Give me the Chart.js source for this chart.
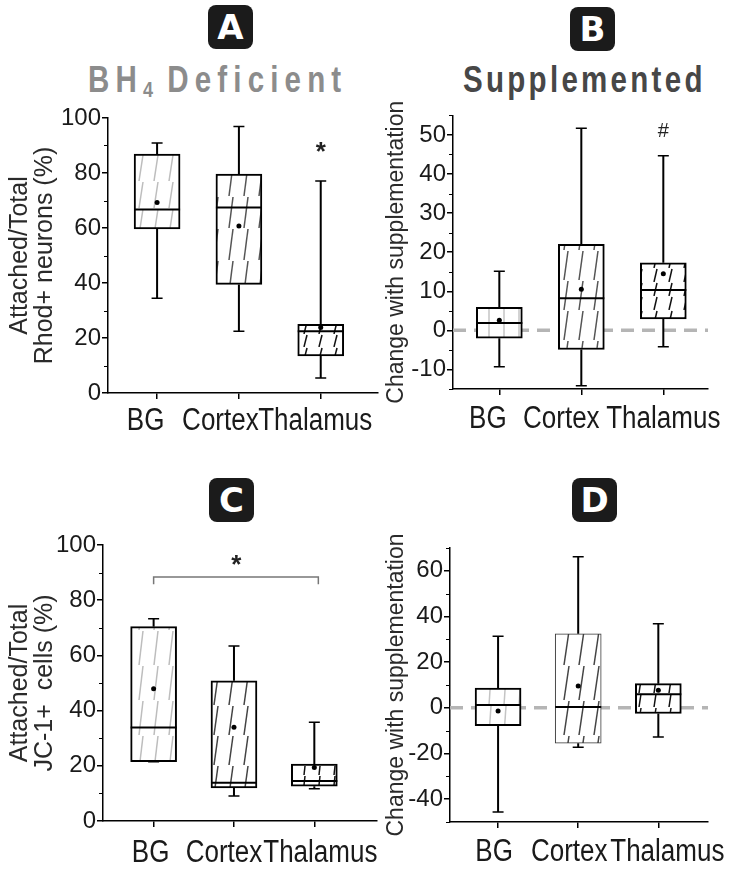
<!DOCTYPE html>
<html>
<head>
<meta charset="utf-8">
<script src="https://cdn.jsdelivr.net/npm/chart.js@4.4.1/dist/chart.umd.min.js"></script>
<style>
  body { margin: 0; background: #fff; width: 731px; height: 871px; position: relative; overflow: hidden; }
  canvas { position: absolute; }
  .badge { position: absolute; width: 45px; height: 44px; background: #1b1b1b; border-radius: 8px; color: #fff;
           font: bold 34px 'DejaVu Sans', sans-serif; display: flex; align-items: center; justify-content: center; }
  .head { position: absolute; font-family: 'Liberation Sans', sans-serif; font-weight: bold;
          font-size: 36px; line-height: 36px; white-space: nowrap; transform: scaleX(0.82); transform-origin: 0 0; }
  .head sub { font-size: 22px; vertical-align: -5px; letter-spacing: 0; }
</style>
</head>
<body>
<div class="badge" style="left:208px;top:5px">A</div>
<div class="badge" style="left:570px;top:7px">B</div>
<div class="badge" style="left:209px;top:478px">C</div>
<div class="badge" style="left:572px;top:478px">D</div>
<div class="head" style="left:88px;top:62px;color:#8c8c8c;letter-spacing:7.5px">BH<sub>4</sub> Deficient</div>
<div class="head" style="left:463px;top:62px;color:#474747;letter-spacing:4px">Supplemented</div>

<canvas id="chartA" width="380" height="335" style="left:0;top:100px"></canvas>
<canvas id="chartB" width="351" height="335" style="left:380px;top:100px"></canvas>
<canvas id="chartC" width="380" height="346" style="left:0;top:525px"></canvas>
<canvas id="chartD" width="351" height="346" style="left:380px;top:525px"></canvas>

<script>
const categories = ['BG', 'Cortex', 'Thalamus'];

// A - BH4 deficient, attached/total Rhod+ neurons (%)
const aLow = [34.5, 22.5, 5.5];
const aQ1 = [59.7, 39.5, 13.5];
const aMedian = [66.7, 67.5, 22.5];
const aQ3 = [86.9, 79.6, 25.0];
const aHigh = [90.9, 96.9, 77.1];
const aMean = [69.3, 60.7, 23.8];
const aTicks = [0, 20, 40, 60, 80, 100];

// B - change with supplementation (Rhod+)
const bLow = [-9.3, -14.2, -4.2];
const bQ1 = [-2.0, -4.9, 2.9];
const bMedian = [1.9, 8.2, 10.3];
const bQ3 = [5.9, 22.0, 17.3];
const bHigh = [15.1, 51.7, 44.7];
const bMean = [2.6, 10.5, 14.5];
const bTicks = [-10, 0, 10, 20, 30, 40, 50];

// C - attached/total JC-1+ cells (%)
const cLow = [21.5, 9.1, 11.7];
const cQ1 = [21.5, 12.0, 12.6];
const cMedian = [33.9, 13.9, 14.5];
const cQ3 = [70.4, 50.8, 20.6];
const cHigh = [73.3, 63.4, 35.8];
const cMean = [47.9, 34.0, 19.4];
const cTicks = [0, 20, 40, 60, 80, 100];

// D - change with supplementation (JC-1+)
const dLow = [-45.6, -17.3, -12.8];
const dQ1 = [-7.8, -15.5, -2.5];
const dMedian = [1.2, 0.4, 6.0];
const dQ3 = [8.7, 32.4, 10.6];
const dHigh = [31.4, 66.2, 36.8];
const dMean = [-1.4, 9.6, 7.7];
const dTicks = [-40, -20, 0, 20, 40, 60];

const SANS = "'Liberation Sans', Arial, sans-serif";

// slanted, staggered hatch used inside the boxes
function hatch(ctx, color, segH, slant, lw) {
    const tile = document.createElement('canvas');
    tile.width = 15; tile.height = segH;
    const g = tile.getContext('2d');
    g.fillStyle = '#fff';
    g.fillRect(0, 0, 15, segH);
    g.strokeStyle = color;
    g.lineWidth = lw;
    g.beginPath();
    g.moveTo(4, segH);
    g.lineTo(4 + slant, 1);
    g.stroke();
    return ctx.createPattern(tile, 'repeat');
}

// whiskers, caps, medians, means, category labels, minor ticks and significance marks
const boxExtras = {
    id: 'boxExtras',
    afterDatasetsDraw(chart, args, o) {
        const {ctx, scales: {x, y}} = chart;
        ctx.save();
        ctx.strokeStyle = '#000';
        categories.forEach((c, i) => {
            const px = x.getPixelForValue(i);
            ctx.lineWidth = 2;
            ctx.beginPath();
            ctx.moveTo(px, y.getPixelForValue(o.q3[i]));
            ctx.lineTo(px, y.getPixelForValue(o.high[i]));
            ctx.moveTo(px, y.getPixelForValue(o.q1[i]));
            ctx.lineTo(px, y.getPixelForValue(o.low[i]));
            ctx.stroke();
            ctx.lineWidth = 1.5;
            ctx.beginPath();
            [o.high[i], o.low[i]].forEach(v => {
                const py = y.getPixelForValue(v);
                ctx.moveTo(px - 5.5, py);
                ctx.lineTo(px + 5.5, py);
            });
            ctx.stroke();
            ctx.lineWidth = 2;
            ctx.beginPath();
            const pm = y.getPixelForValue(o.median[i]);
            ctx.moveTo(px - 23, pm);
            ctx.lineTo(px + 23, pm);
            ctx.stroke();
        });
        ctx.fillStyle = '#000';
        o.mean.forEach((m, i) => {
            ctx.beginPath();
            ctx.arc(x.getPixelForValue(i), y.getPixelForValue(m), 2.5, 0, Math.PI * 2);
            ctx.fill();
        });
        ctx.textAlign = 'center';
        ctx.textBaseline = 'middle';
        (o.marks || []).forEach(m => {
            ctx.font = m.font;
            ctx.fillStyle = '#222';
            ctx.fillText(m.text, x.getPixelForValue(m.x), y.getPixelForValue(m.y));
        });
        if (o.bracket) {
            const b = o.bracket;
            ctx.strokeStyle = '#777';
            ctx.lineWidth = 1.5;
            ctx.beginPath();
            ctx.moveTo(x.getPixelForValue(b.from), y.getPixelForValue(b.foot));
            ctx.lineTo(x.getPixelForValue(b.from), y.getPixelForValue(b.y));
            ctx.lineTo(x.getPixelForValue(b.to), y.getPixelForValue(b.y));
            ctx.lineTo(x.getPixelForValue(b.to), y.getPixelForValue(b.foot));
            ctx.stroke();
        }
        ctx.restore();
    },
    afterDraw(chart, args, o) {
        const {ctx, scales: {x, y}} = chart;
        ctx.save();
        ctx.strokeStyle = '#000';
        ctx.lineWidth = 1.2;
        ctx.beginPath();
        for (let v = y.min; v <= y.max + 1e-9; v += o.minorStep) {
            if (o.ticks.includes(v)) continue;
            const py = Math.round(y.getPixelForValue(v)) + 0.5;
            ctx.moveTo(y.right - 4, py);
            ctx.lineTo(y.right, py);
        }
        ctx.stroke();
        // category labels: tall, narrow lettering set a little off the tick marks
        ctx.fillStyle = '#1a1a1a';
        ctx.font = '26px ' + SANS;
        ctx.textAlign = 'center';
        ctx.textBaseline = 'alphabetic';
        categories.forEach((c, i) => {
            ctx.save();
            ctx.translate(x.getPixelForValue(i) + o.labelShift[i], x.top + o.labelBase);
            ctx.scale(1, 1.2);
            ctx.fillText(c, 0, 0);
            ctx.restore();
        });
        ctx.restore();
    }
};

function makeChart(id, p) {
    const canvas = document.getElementById(id);
    const ctx = canvas.getContext('2d');
    const fills = p.hatches.map(h => hatch(ctx, ...h));
    const datasets = [];
    if (p.zeroLine) {
        datasets.push({
            type: 'line',
            data: [{x: p.xMin, y: 0}, {x: p.xMax, y: 0}],
            borderColor: '#b5b5b5', borderWidth: 3.5, borderDash: [13, 8],
            pointRadius: 0, order: 3
        });
    }
    datasets.push({
        type: 'bar',
        data: categories.map((c, i) => ({x: i, y: [p.q1[i], p.q3[i]]})),
        backgroundColor: fills,
        borderColor: p.boxBorderColor,
        borderWidth: p.boxBorder,
        borderSkipped: false,
        barThickness: 46,
        order: 2
    });

    const L = p.canvas.L, T = p.canvas.T, W = canvas.width, H = canvas.height;
    const a = p.area;

    return new Chart(ctx, {
        type: 'bar',
        data: {datasets},
        plugins: [boxExtras],
        options: {
            responsive: false,
            animation: false,
            layout: {padding: {top: a.t - T, right: L + W - a.r, left: 0, bottom: 0}},
            plugins: {
                legend: {display: false},
                tooltip: {enabled: false},
                boxExtras: {
                    low: p.low, q1: p.q1, median: p.median, q3: p.q3, high: p.high, mean: p.mean,
                    ticks: p.ticks, minorStep: p.minorStep, marks: p.marks, bracket: p.bracket,
                    labelShift: p.labelShift, labelBase: p.labelBase
                }
            },
            scales: {
                x: {
                    type: 'linear',
                    offset: false,
                    min: p.xMin, max: p.xMax,
                    afterBuildTicks: s => { s.ticks = categories.map((c, i) => ({value: i})); },
                    afterFit: s => { s.height = T + H - a.b; },
                    grid: {offset: false, drawOnChartArea: false, tickLength: 6, color: '#000', lineWidth: 1.5},
                    border: {color: '#000', width: 1.5},
                    ticks: {display: false}
                },
                y: {
                    min: p.yMin, max: p.yMax,
                    afterBuildTicks: s => { s.ticks = p.ticks.map(v => ({value: v})); },
                    afterFit: s => { s.width = a.l - L; },
                    grid: {drawOnChartArea: false, tickLength: 6, color: '#000', lineWidth: 1.5},
                    border: {color: '#000', width: 1.5},
                    ticks: {padding: 1, color: '#1a1a1a', font: {family: SANS, size: 24}},
                    title: {
                        display: true, text: p.yTitle, color: '#2a2a2a',
                        font: {family: SANS, size: p.titleSize, lineHeight: 1.0},
                        padding: {top: p.titlePad, bottom: 0}
                    }
                }
            }
        }
    });
}

makeChart('chartA', {
    canvas: {L: 0, T: 100}, area: {l: 108, t: 118, r: 378, b: 393},
    xMin: -0.6, xMax: 2.7, yMin: 0, yMax: 100, ticks: aTicks, minorStep: 10,
    low: aLow, q1: aQ1, median: aMedian, q3: aQ3, high: aHigh, mean: aMean,
    hatches: [['#bdbdbd', 27, 4, 1.5], ['#555', 32, 4, 1.5], ['#111', 13, 3, 1.5]],
    boxBorder: [2, 2, 2], boxBorderColor: '#000',
    yTitle: ['Attached/Total', 'Rhod+ neurons (%)'], titleSize: 25, titlePad: 8,
    labelShift: [-11.5, -18.5, -5.5], labelBase: 37,
    marks: [{text: '*', x: 2, y: 87.5, font: "bold 26px " + SANS}]
});

makeChart('chartB', {
    canvas: {L: 380, T: 100}, area: {l: 453, t: 115, r: 708, b: 389},
    xMin: -0.565, xMax: 2.545, yMin: -15, yMax: 55, ticks: bTicks, minorStep: 5,
    low: bLow, q1: bQ1, median: bMedian, q3: bQ3, high: bHigh, mean: bMean,
    hatches: [['#c4c4c4', 40, 0, 1.5], ['#555', 30, 4, 1.5], ['#111', 14, 3, 1.5]],
    boxBorder: [2, 2, 2], boxBorderColor: '#000', zeroLine: true,
    yTitle: 'Change with supplementation', titleSize: 23, titlePad: 5,
    labelShift: [-11.5, -20, 0], labelBase: 39,
    marks: [{text: '#', x: 2, y: 51, font: "20px " + SANS}]
});

makeChart('chartC', {
    canvas: {L: 0, T: 525}, area: {l: 103, t: 545, r: 377, b: 821},
    xMin: -0.63, xMax: 2.78, yMin: 0, yMax: 100, ticks: cTicks, minorStep: 10,
    low: cLow, q1: cQ1, median: cMedian, q3: cQ3, high: cHigh, mean: cMean,
    hatches: [['#bdbdbd', 35, 4, 1.5], ['#444', 30, 4, 1.5], ['#111', 10, 1, 1.5]],
    boxBorder: [2, 2, 2], boxBorderColor: '#000',
    yTitle: ['Attached/Total', 'JC-1+  cells (%)'], titleSize: 25, titlePad: 8,
    labelShift: [-3, -10, 6], labelBase: 41,
    marks: [{text: '*', x: 1.03, y: 92.5, font: "bold 26px " + SANS}],
    bracket: {from: 0, to: 2.05, y: 88.4, foot: 85.8}
});

makeChart('chartD', {
    canvas: {L: 380, T: 525}, area: {l: 450, t: 548, r: 708, b: 822},
    xMin: -0.6, xMax: 2.62, yMin: -50, yMax: 70, ticks: dTicks, minorStep: 10,
    low: dLow, q1: dQ1, median: dMedian, q3: dQ3, high: dHigh, mean: dMean,
    hatches: [['#c4c4c4', 30, 2, 1.5], ['#444', 35, 5, 1.5], ['#111', 14, 2, 1.5]],
    boxBorder: [2, 1, 2], boxBorderColor: ['#000', '#333', '#000'], zeroLine: true,
    yTitle: 'Change with supplementation', titleSize: 23, titlePad: 5,
    labelShift: [-4, -9, 9], labelBase: 39
});
</script>
</body>
</html>
